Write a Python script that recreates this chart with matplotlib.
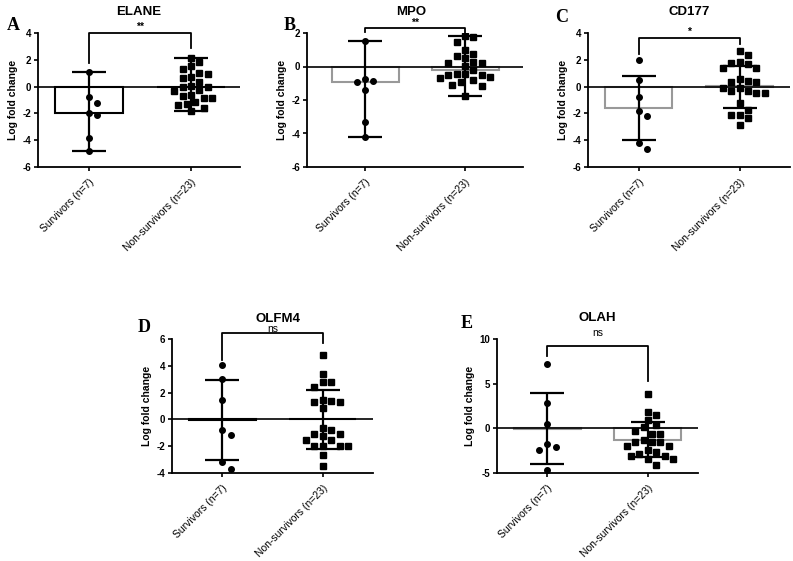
import numpy as np
import matplotlib.pyplot as plt

plt.rcParams['font.family'] = ['Liberation Sans', 'DejaVu Sans']

# ---- data (log fold change) ----
groups = ["Survivors (n=7)", "Non-survivors (n=23)"]

elane_surv = [1.1, -0.8, -1.2, -1.95, -2.15, -3.85, -4.8]
elane_non = [2.14, 1.82, 1.35, 1.5, 0.97, 1.02, 0.62, 0.75, 0.33, 0.0, 0.06, 0.0,
             -0.27, -0.32, -0.6, -0.7, -0.82, -0.85, -1.15, -1.3, -1.35, -1.6, -1.82]
mpo_surv = [1.54, -0.89, -0.91, -0.75, -1.38, -3.29, -4.23]
mpo_non = [1.76, 1.82, 1.44, 1.0, 0.77, 0.6, 0.51, 0.27, 0.21, 0.22, 0.03, -0.21,
           -0.47, -0.51, -0.47, -0.53, -0.79, -0.67, -0.65, -0.93, -1.08, -1.16, -1.76]
cd177_surv = [1.96, 0.47, -0.75, -1.8, -2.22, -4.2, -4.67]
cd177_non = [2.34, 2.63, 1.79, 1.37, 1.37, 1.72, 1.84, 0.42, 0.34, 0.37, 0.54, -0.1,
             -0.1, -0.33, -0.45, -0.45, -0.33, -1.22, -1.72, -2.12, -2.12, -2.37, -2.84]
olfm4_surv = [4.03, 3.0, 1.47, -0.8, -1.14, -3.18, -3.68]
olfm4_non = [4.83, 3.41, 2.76, 2.81, 2.39, 1.47, 1.3, 1.3, 1.39, 0.85, -0.77, -0.67,
             -1.09, -1.09, -1.27, -1.51, -1.51, -1.96, -1.98, -1.98, -2.0, -2.69, -3.46]
olah_surv = [7.24, 2.8, 0.49, -2.09, -1.79, -2.39, -4.7]
olah_non = [3.85, 1.87, 1.53, 0.97, 0.41, 0.11, -0.59, -0.59, -0.33, -1.49, -1.49, -2.01,
            -2.01, -1.53, -1.34, -2.42, -2.68, -3.06, -3.43, -3.13, -3.43, -2.83, -4.06]

# bar heights (means) and whisker ends, survivors / non-survivors
elane_mean, elane_lo, elane_hi = [-1.95, 0.0], [-4.8, -1.8], [1.1, 2.15]
mpo_mean, mpo_lo, mpo_hi = [-0.9, -0.23], [-4.23, -1.76], [1.54, 1.82]
cd177_mean, cd177_lo, cd177_hi = [-1.6, 0.03], [-4.01, -1.57], [0.76, 1.5]
olfm4_mean, olfm4_lo, olfm4_hi = [-0.04, 0.03], [-3.0, -2.19], [2.94, 2.22]
olah_mean, olah_lo, olah_hi = [-0.06, -1.27], [-4.03, -3.2], [3.92, 0.71]

# significance brackets: top, left drop, right drop
elane_sig = ("**", [4.0, 1.73, 2.85])
mpo_sig = ("**", [2.3, 2.07, 1.97])
cd177_sig = ("*", [3.63, 2.46, 3.2])
olfm4_sig = ("ns", [6.45, 4.45, 5.7])
olah_sig = ("ns", [9.18, 8.14, 5.26])

W, H = 793, 561
fig = plt.figure(figsize=(W / 100, H / 100), dpi=100)


def px_axes(x, top, w, h):
    return fig.add_axes([x / W, 1 - (top + h) / H, w / W, h / H])


def swarm(ax, vals, center, step=4.2, diam=8.0):
    # simple beeswarm in pixel space so the markers do not pile up
    vals = np.asarray(vals, dtype=float)
    pts = ax.transData.transform(np.column_stack([np.full(len(vals), center), vals]))
    xc = pts[0, 0]
    placed = []
    xs = np.zeros(len(vals))
    cands = [0]
    for k in range(1, 40):
        cands += [k * step, -k * step]
    for i in np.argsort(-vals):
        yp = pts[i, 1]
        for c in cands:
            x = xc + c
            if all(np.hypot(x - px, yp - py) >= diam for px, py in placed):
                break
        placed.append((x, yp))
        xs[i] = x
    back = ax.transData.inverted().transform(np.column_stack([xs, pts[:, 1]]))
    return back[:, 0]


def panel(box, xlim, ylim, yticks, title, title_xy, letter, letter_xy,
          surv, non, means, lo, hi, bar_color, sig, sig_text_y, sig_va):
    ax = px_axes(*box)
    ax.set_xlim(*xlim)
    ax.set_ylim(*ylim)
    for s in ["top", "right"]:
        ax.spines[s].set_visible(False)
    for s in ["left", "bottom"]:
        ax.spines[s].set_linewidth(1.3)
    ax.set_yticks(yticks)
    ax.set_yticklabels([str(t) for t in yticks], fontsize=7, fontweight="bold")
    ax.set_xticks([0, 1])
    ax.set_xticklabels(groups, rotation=45, ha="right", rotation_mode="anchor", fontsize=7.5)
    ax.tick_params(axis="both", length=3, width=1.2, pad=2)
    ax.tick_params(axis="x", pad=4)
    ax.set_ylabel("Log fold change", fontsize=7.5, fontweight="bold", labelpad=3)

    ax.bar([0, 1], means, width=0.67, color="white", edgecolor=bar_color, linewidth=1.5, zorder=2)
    ax.axhline(0, color="black", linewidth=1.2, zorder=3)
    for i in range(2):
        ax.errorbar([i], [means[i]], yerr=[[means[i] - lo[i]], [hi[i] - means[i]]],
                    fmt="none", ecolor="black", elinewidth=1.6, capsize=12, capthick=1.6, zorder=5)
    xs = swarm(ax, surv, 0)
    ax.plot(xs, surv, "o", color="black", markersize=4, zorder=4)
    xs = swarm(ax, non, 1)
    ax.plot(xs, non, "s", color="black", markersize=3.8, zorder=4)

    label, (top, left, right) = sig
    ax.plot([0, 0, 1, 1], [left, top, top, right], color="black", linewidth=1.3,
            clip_on=False, zorder=6)
    ax.text(0.5, sig_text_y, label, ha="center", va=sig_va, fontsize=7.5,
            fontweight="bold" if "*" in label else "normal")

    fig.text(title_xy[0] / W, 1 - title_xy[1] / H, title, ha="center", va="center",
             fontsize=9.5, fontweight="bold")
    fig.text(letter_xy[0] / W, 1 - letter_xy[1] / H, letter, ha="center", va="center",
             fontsize=13, fontweight="bold", family="Liberation Serif")
    return ax


panel((38, 33, 202, 134), (-0.5, 1.48), (-6, 4), [-6, -4, -2, 0, 2, 4], "ELANE", (139, 12),
      "A", (13, 25), elane_surv, elane_non, elane_mean, elane_lo, elane_hi, "black",
      elane_sig, 4.05, "bottom")
panel((307, 33, 216, 134), (-0.58, 1.58), (-6, 2), [-6, -4, -2, 0, 2], "MPO", (411, 12),
      "B", (290, 26), mpo_surv, mpo_non, mpo_mean, mpo_lo, mpo_hi, "#999999",
      mpo_sig, 2.33, "bottom")
panel((588, 33, 202, 134), (-0.5, 1.5), (-6, 4), [-6, -4, -2, 0, 2, 4], "CD177", (689, 12),
      "C", (562, 18), cd177_surv, cd177_non, cd177_mean, cd177_lo, cd177_hi, "#999999",
      cd177_sig, 3.68, "bottom")
panel((172, 339, 201, 134), (-0.5, 1.5), (-4, 6), [-4, -2, 0, 2, 4, 6], "OLFM4", (278, 319),
      "D", (144, 328), olfm4_surv, olfm4_non, olfm4_mean, olfm4_lo, olfm4_hi, "black",
      olfm4_sig, 6.75, "center")
panel((497, 339, 201, 134), (-0.5, 1.5), (-5, 10), [-5, 0, 5, 10], "OLAH", (597, 318),
      "E", (467, 323), olah_surv, olah_non, olah_mean, olah_lo, olah_hi, "#999999",
      olah_sig, 10.7, "center")

fig.savefig("out.png", dpi=100)
